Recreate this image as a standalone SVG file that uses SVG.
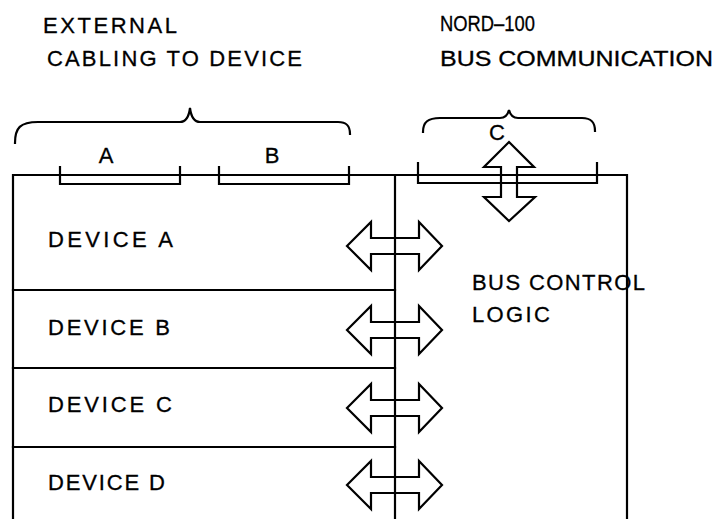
<svg xmlns="http://www.w3.org/2000/svg" width="718" height="519" viewBox="0 0 718 519">
<style>
.ln{fill:none;stroke:#000;stroke-width:2.2;stroke-linecap:square;stroke-linejoin:miter}
.ar{fill:none;stroke:#000;stroke-width:2.2;stroke-linejoin:miter}
.t{font-family:"Liberation Sans",Arial,sans-serif;font-size:22px;fill:#000;stroke:#000;stroke-width:0.3}
</style>
<rect width="718" height="519" fill="#fff"/>
<g id="headers">
<text class="t" x="43" y="33" textLength="134" lengthAdjust="spacing">EXTERNAL</text>
<text class="t" x="47" y="66" textLength="255" lengthAdjust="spacing">CABLING TO DEVICE</text>
<text class="t" x="440" y="31" textLength="95" lengthAdjust="spacingAndGlyphs">NORD–100</text>
<text class="t" x="440" y="66" textLength="273" lengthAdjust="spacingAndGlyphs">BUS COMMUNICATION</text>
</g>
<g id="braces">
<path class="ln" d="M15,143 C15,128 20,122 38,122 L180,122 C186,122 189,116 190,108 C191,116 194,122 200,122 L338,122 C347,122 350,126 350,134"/>
<path class="ln" d="M423,132 C423,122 428,118 440,118 L500,118 C505,118 508,114 509,110 C510,114 513,118 518,118 L582,118 C592,118 595,123 595,131"/>
<text class="t" x="106" y="163" text-anchor="middle">A</text>
<text class="t" x="272" y="163" text-anchor="middle">B</text>
<text class="t" x="497" y="140" text-anchor="middle">C</text>
</g>
<g id="frame">
<path class="ln" d="M13,519 L13,175 L627,175 L627,519"/>
<path class="ln" d="M395,175 L395,519"/>
</g>
<g id="cable-connectors">
<path class="ln" d="M60,167 L60,184 L180,184 L180,167"/>
<path class="ln" d="M219,167 L219,184 L349,184 L349,167"/>
<path class="ln" d="M418,163 L418,183 L597,183 L597,163"/>
</g>
<g id="device-a">
<text class="t" x="48" y="247" textLength="125" lengthAdjust="spacing">DEVICE A</text>
</g>
<g id="device-b">
<path class="ln" d="M13,290 L395,290"/>
<text class="t" x="48" y="335" textLength="122" lengthAdjust="spacing">DEVICE B</text>
</g>
<g id="device-c">
<path class="ln" d="M13,368 L395,368"/>
<text class="t" x="48" y="412" textLength="124" lengthAdjust="spacing">DEVICE C</text>
</g>
<g id="device-d">
<path class="ln" d="M13,447 L395,447"/>
<text class="t" x="48" y="490" textLength="117" lengthAdjust="spacing">DEVICE D</text>
</g>
<g id="bus-control">
<text class="t" x="472" y="290" textLength="173" lengthAdjust="spacing">BUS CONTROL</text>
<text class="t" x="472" y="322" textLength="78" lengthAdjust="spacing">LOGIC</text>
</g>
<g id="connectors">
<polygon class="ar" points="509,142 534,167 517,167 517,197 535,197 509,221 484,197 501,197 501,167 484,167"/>
<polygon class="ar" points="347,246 371,222 371,238 419,238 419,222 442,246 419,270 419,254 371,254 371,270"/>
<polygon class="ar" points="347,330 371,306 371,322 419,322 419,306 442,330 419,354 419,338 371,338 371,354"/>
<polygon class="ar" points="347,408 371,384 371,400 419,400 419,384 442,408 419,432 419,416 371,416 371,432"/>
<polygon class="ar" points="347,485 371,461 371,477 419,477 419,461 442,485 419,509 419,493 371,493 371,509"/>
</g>
</svg>
